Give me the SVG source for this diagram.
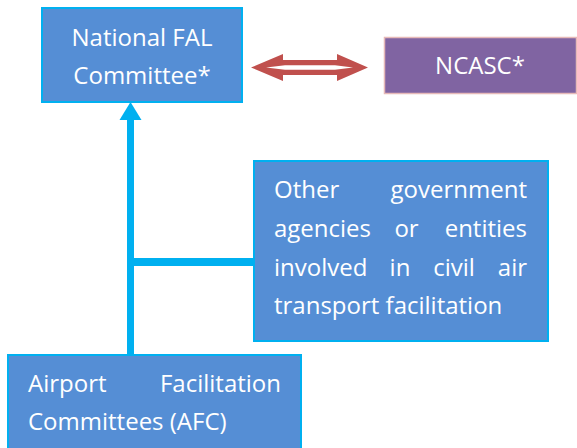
<svg xmlns="http://www.w3.org/2000/svg" width="577" height="448" viewBox="0 0 577 448">
<style>
.box{fill:#558ED5;stroke:#00B0F0;stroke-width:2}
.t{font-family:"Open Sans","Liberation Sans",sans-serif;font-size:24px;fill:#FFFFFF}
.c{stroke:#00B0F0;fill:none}
</style>
<rect width="577" height="448" fill="#FFFFFF"/>
<g id="connectors">
  <line class="c" x1="130.5" y1="118" x2="130.5" y2="355" stroke-width="7"/>
  <polygon points="130.5,102 141.5,120 119.5,120" fill="#00B0F0"/>
  <line class="c" x1="130" y1="262" x2="254" y2="262" stroke-width="8"/>
  <polygon points="251,67.5 283,54 283,60 337,60 337,54 368,67.5 337,81 337,75 283,75 283,81" fill="#C0504D"/>
  <polygon points="266,67.5 285,65.3 335,65.3 353,67.5 335,69.8 285,69.8" fill="#FFFFFF"/>
</g>
<g id="national-fal">
  <rect class="box" x="42" y="8" width="200" height="94"/>
  <text class="t" x="142" y="45.5" text-anchor="middle">National FAL</text>
  <text class="t" x="142" y="84" text-anchor="middle">Committee*</text>
</g>
<g id="ncasc">
  <rect x="384.5" y="37.5" width="192" height="56" fill="#8064A2" stroke="#E6B9B8" stroke-width="1.5"/>
  <text class="t" x="480" y="73.5" text-anchor="middle">NCASC*</text>
</g>
<g id="other-agencies">
  <rect class="box" x="254" y="161" width="294" height="180"/>
  <text class="t" x="274" y="198">Other</text>
  <text class="t" x="527" y="198" text-anchor="end">government</text>
  <text class="t" x="274" y="237">agencies</text>
  <text class="t" x="406.5" y="237" text-anchor="middle">or</text>
  <text class="t" x="527" y="237" text-anchor="end">entities</text>
  <text class="t" x="274" y="276">involved</text>
  <text class="t" x="400" y="276" text-anchor="middle">in</text>
  <text class="t" x="454" y="276" text-anchor="middle">civil</text>
  <text class="t" x="527" y="276" text-anchor="end">air</text>
  <text class="t" x="274" y="314">transport facilitation</text>
</g>
<g id="afc">
  <rect class="box" x="8" y="355" width="293" height="100"/>
  <text class="t" x="28" y="392">Airport</text>
  <text class="t" x="281" y="392" text-anchor="end">Facilitation</text>
  <text class="t" x="28" y="430">Committees (AFC)</text>
</g>
</svg>
